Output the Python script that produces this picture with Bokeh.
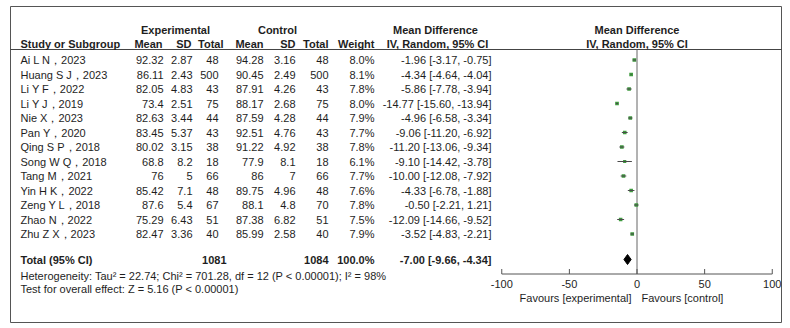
from bokeh.plotting import figure
from bokeh.models import Range1d
from bokeh.core.properties import value
from bokeh.embed import file_html
from bokeh.resources import INLINE
import math

# ---------------- data ----------------
studies = ["Ai L N，2023", "Huang S J，2023", "Li Y F，2022", "Li Y J，2019", "Nie X，2023",
           "Pan Y，2020", "Qing S P，2018", "Song W Q，2018", "Tang M，2021", "Yin H K，2022",
           "Zeng Y L，2018", "Zhao N，2022", "Zhu Z X，2023"]
exp_mean = [92.32, 86.11, 82.05, 73.4, 82.63, 83.45, 80.02, 68.8, 76, 85.42, 87.6, 75.29, 82.47]
exp_sd = [2.87, 2.43, 4.83, 2.51, 3.44, 5.37, 3.15, 8.2, 5, 7.1, 5.4, 6.43, 3.36]
exp_n = [48, 500, 43, 75, 44, 43, 38, 18, 66, 48, 67, 51, 40]
ctl_mean = [94.28, 90.45, 87.91, 88.17, 87.59, 92.51, 91.22, 77.9, 86, 89.75, 88.1, 87.38, 85.99]
ctl_sd = [3.16, 2.49, 4.26, 2.68, 4.28, 4.76, 4.92, 8.1, 7, 4.96, 4.8, 6.82, 2.58]
ctl_n = [48, 500, 43, 75, 44, 43, 38, 18, 66, 48, 70, 51, 40]
weight = [8.0, 8.1, 7.8, 8.0, 7.9, 7.7, 7.8, 6.1, 7.7, 7.6, 7.8, 7.5, 7.9]
md = [-1.96, -4.34, -5.86, -14.77, -4.96, -9.06, -11.20, -9.10, -10.00, -4.33, -0.50, -12.09, -3.52]
md_lo = [-3.17, -4.64, -7.78, -15.60, -6.58, -11.20, -13.06, -14.42, -12.08, -6.78, -2.21, -14.66, -4.83]
md_hi = [-0.75, -4.04, -3.94, -13.94, -3.34, -6.92, -9.34, -3.78, -7.92, -1.88, 1.21, -9.52, -2.21]

total_exp = 1081
total_ctl = 1084
total_weight = 100.0
pooled_md = -7.00
pooled_lo = -9.66
pooled_hi = -4.34
het_text = "Heterogeneity: Tau² = 22.74; Chi² = 701.28, df = 12 (P < 0.00001); I² = 98%"
test_text = "Test for overall effect: Z = 5.16 (P < 0.00001)"
axis_ticks = [-100, -50, 0, 50, 100]
tick_labels = ["-100", "-50", "0", "50", "100"]
favours_left = "Favours [experimental]"
favours_right = "Favours [control]"

# ---------------- layout ----------------
W, H = 790, 328
zero_px = 636.5
px_per_unit = 1.3525
row0_px = 59.5
row_pitch = 14.5

FONT = value("Liberation Sans")
FS = "11px"
TC = "#1e1e1e"

p = figure(width=W, height=H, output_backend="svg", toolbar_location=None,
           x_axis_location=None, y_axis_location=None, min_border=0,
           x_range=Range1d(-zero_px / px_per_unit, (W - zero_px) / px_per_unit),
           y_range=Range1d((H - row0_px) / row_pitch, -row0_px / row_pitch))
p.extra_x_ranges = {"px": Range1d(0, W)}
p.extra_y_ranges = {"py": Range1d(H, 0)}
p.outline_line_color = None
p.xgrid.visible = False
p.ygrid.visible = False
p.background_fill_color = "white"
p.border_fill_color = "white"

rows = list(range(len(studies)))


def txt(x, y, t, align="left", bold=False, xr="px", yr="default"):
    kw = dict(x=x, y=y, text=t, text_align=align, text_baseline="middle",
              text_font=FONT, text_font_size=FS, text_color=TC,
              text_font_style="bold" if bold else "normal", x_range_name=xr)
    if yr != "default":
        kw["y_range_name"] = yr
    p.text(**kw)


# frame
p.quad(left=[10], right=[781], top=[6], bottom=[322], fill_color=None,
       line_color="#555555", line_width=1, x_range_name="px", y_range_name="py")
# header separator
p.segment(x0=[10], x1=[781], y0=[49], y1=[49], line_color="#444444", line_width=1,
          x_range_name="px", y_range_name="py")

# headers
hy1, hy2 = 29, 43
txt([175], [hy1], ["Experimental"], "center", True, yr="py")
txt([277], [hy1], ["Control"], "center", True, yr="py")
txt([435], [hy1], ["Mean Difference"], "center", True, yr="py")
txt([636.5], [hy1], ["Mean Difference"], "center", True, yr="py")
txt([20], [hy2], ["Study or Subgroup"], "left", True, yr="py")
for xh, lab in [(162, "Mean"), (191, "SD"), (223, "Total"), (263, "Mean"), (295, "SD"),
                (328, "Total"), (374, "Weight")]:
    txt([xh], [hy2], [lab], "right", True, yr="py")
txt([437], [hy2], ["IV, Random, 95% CI"], "center", True, yr="py")
txt([636.5], [hy2], ["IV, Random, 95% CI"], "center", True, yr="py")

# table rows
n = len(studies)
txt([20] * n, rows, studies, "left")
fmt = lambda v: f"{v:g}"
txt([163] * n, rows, [fmt(v) for v in exp_mean], "right")
txt([192] * n, rows, [fmt(v) for v in exp_sd], "right")
txt([218] * n, rows, [str(v) for v in exp_n], "right")
txt([263] * n, rows, [fmt(v) for v in ctl_mean], "right")
txt([295] * n, rows, [fmt(v) for v in ctl_sd], "right")
txt([328] * n, rows, [str(v) for v in ctl_n], "right")
txt([374] * n, rows, [f"{w:.1f}%" for w in weight], "right")
txt([491] * n, rows, [f"{m:.2f} [{l:.2f}, {h:.2f}]" for m, l, h in zip(md, md_lo, md_hi)], "right")

# totals
total_row = (259 - row0_px) / row_pitch
txt([20], [total_row], ["Total (95% CI)"], "left", True)
txt([226], [total_row], [str(total_exp)], "right", True)
txt([328], [total_row], [str(total_ctl)], "right", True)
txt([374], [total_row], [f"{total_weight:.1f}%"], "right", True)
txt([491], [total_row], [f"{pooled_md:.2f} [{pooled_lo:.2f}, {pooled_hi:.2f}]"], "right", True)
txt([20], [(275 - row0_px) / row_pitch], [het_text], "left")
txt([20], [(288 - row0_px) / row_pitch], [test_text], "left")

# zero line
p.segment(x0=[0], x1=[0], y0=[49], y1=[273.5], line_color="#666666", line_width=1,
          y_range_name="py")

# study markers
sizes = [math.sqrt(w) * 1.3 for w in weight]
p.scatter(x=md, y=rows, marker="square", size=sizes, fill_color="#3f9a3f",
          line_color=None)
p.segment(x0=md_lo, x1=md_hi, y0=rows, y1=rows, line_color="#4a4a4a", line_width=1)

# pooled diamond
dh = 5 / row_pitch
p.patch(x=[pooled_lo, pooled_md, pooled_hi, pooled_md],
        y=[total_row, total_row - dh, total_row, total_row + dh],
        fill_color="black", line_color="black", line_width=1)

# axis
p.segment(x0=[axis_ticks[0]], x1=[axis_ticks[-1]], y0=[273.5], y1=[273.5],
          line_color="#555555", line_width=1, y_range_name="py")
p.segment(x0=axis_ticks, x1=axis_ticks, y0=[268.5] * len(axis_ticks),
          y1=[273.5] * len(axis_ticks), line_color="#555555", line_width=1,
          y_range_name="py")
p.text(x=axis_ticks, y=[283] * len(axis_ticks), text=tick_labels, text_align="center",
       text_baseline="middle", text_font=FONT, text_font_size=FS, text_color=TC,
       y_range_name="py")
txt([631], [297], [favours_left], "right", yr="py")
txt([641], [297], [favours_right], "left", yr="py")

open("out.html", "w").write(file_html(p, INLINE))
